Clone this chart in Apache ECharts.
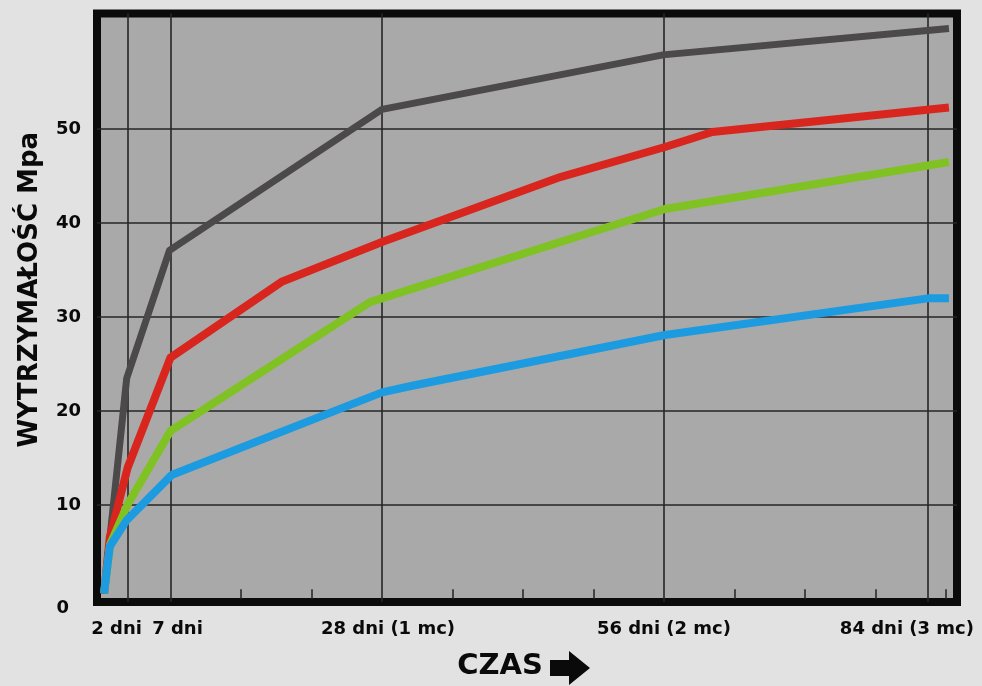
<!DOCTYPE html>
<html>
<head>
<meta charset="utf-8">
<script src="https://cdn.jsdelivr.net/npm/echarts@6/dist/echarts.min.js"></script>
<style>
  html, body { margin: 0; padding: 0; background: #e2e2e2; }
  #chart { width: 982px; height: 686px; }
</style>
</head>
<body>
<div id="chart"></div>
<script>
// czas w dniach, wytrzymałość w MPa
const grayDays  = [0.4, 2.65, 6.9, 28, 55.9, 84.3];
const grayVals  = [0.6, 23.5, 37.1, 52.1, 57.9, 60.7];
const redDays   = [0.4, 0.97, 2.75, 7.0, 18.1, 28, 45.7, 56.1, 60.8, 84.3];
const redVals   = [0.6, 6.6, 14.0, 25.7, 33.8, 38.0, 44.9, 48.1, 49.7, 52.3];
const greenDays = [0.4, 1.0, 2.75, 7.0, 26.8, 56.1, 84.3];
const greenVals = [0.6, 5.8, 10.1, 17.9, 31.6, 41.5, 46.5];
const blueDays  = [0.4, 0.97, 2.65, 7.1, 28, 31.0, 56.1, 82.2, 84.3];
const blueVals  = [0.6, 5.6, 8.4, 13.2, 22.0, 22.7, 28.1, 32.0, 32.0];

const xLabelDays  = [2, 7, 28, 56, 84];
const xLabelTexts = ['2 dni', '7 dni', '28 dni (1 mc)', '56 dni (2 mc)', '84 dni (3 mc)'];
const xTickDays   = [14, 21, 35, 42, 49, 63, 70, 77, 84];
const xLineDays   = [2.75, 7, 28, 56, 82.2];
const yLabelVals  = [0, 10, 20, 30, 40, 50];
const yLineVals   = [10, 20, 30, 40, 50];

const font = '"DejaVu Sans", sans-serif';
const toPairs = (xs, ys) => xs.map((x, i) => [x, ys[i]]);

const labelPad = [[0, 7, 0, 0], [0, 0, 0, 14], [0, 0, 0, 12], [0, 0, 0, 0], [0, 78, 0, 0]];
const rich = {};
labelPad.forEach((p, i) => {
    rich['l' + i] = { fontFamily: font, fontWeight: 'bold', fontSize: 18, color: '#0a0a0a', padding: p };
});

const chart = echarts.init(document.getElementById('chart'));

const option = {
    backgroundColor: '#e2e2e2',
    animation: false,
    grid: {
        left: 97, right: 25, top: 13.5, bottom: 80.5,
        show: true,
        backgroundColor: '#a9a9a9',
        borderColor: '#0b0b0b',
        borderWidth: 8
    },
    xAxis: [
        {
            type: 'value',
            min: -0.3,
            max: 85.1,
            name: 'CZAS',
            nameLocation: 'middle',
            nameGap: 50,
            nameTextStyle: { fontFamily: font, fontWeight: 'bold', fontSize: 29, color: '#0a0a0a', padding: [0, 54, 0, 0] },
            axisLine: { show: false },
            splitLine: { show: false },
            axisTick: {
                show: true, inside: true, length: 10,
                customValues: xTickDays,
                lineStyle: { color: '#222', width: 1.5 }
            },
            axisLabel: {
                customValues: xLabelDays,
                margin: 18,
                formatter: function (v) {
                    const i = xLabelDays.indexOf(v);
                    return '{l' + i + '|' + xLabelTexts[i] + '}';
                },
                rich: rich
            }
        },
        {
            type: 'value',
            min: -0.3,
            max: 85.1,
            axisLine: { show: false },
            axisLabel: { show: false },
            axisTick: { show: false, customValues: xLineDays },
            splitLine: { show: true, lineStyle: { color: '#262626', width: 1.6 } }
        }
    ],
    yAxis: {
        type: 'value',
        min: -0.3,
        max: 62.3,
        name: 'WYTRZYMAŁOŚĆ Mpa',
        nameLocation: 'middle',
        nameRotate: 90,
        nameGap: 54,
        nameTextStyle: { fontFamily: font, fontWeight: 'bold', fontSize: 26, color: '#0a0a0a', padding: [0, 0, 0, 36] },
        axisLine: { show: false },
        axisTick: { show: false, customValues: yLineVals },
        splitLine: { show: true, lineStyle: { color: '#262626', width: 1.6 } },
        axisLabel: {
            customValues: yLabelVals,
            margin: 16,
            fontFamily: font, fontWeight: 'bold', fontSize: 18, color: '#0a0a0a',
            formatter: function (v) {
                return v === 0 ? '{z|0}' : String(v);
            },
            rich: {
                z: { fontFamily: font, fontWeight: 'bold', fontSize: 18, color: '#0a0a0a', padding: [18, 12, 0, 0] }
            }
        }
    },
    graphic: [
        {
            type: 'polygon',
            shape: { points: [[550, 660], [569, 660], [569, 651], [590, 668], [569, 685], [569, 676], [550, 676]] },
            style: { fill: '#0a0a0a' }
        }
    ],
    series: [
        { name: 'gray',  type: 'line', data: toPairs(grayDays, grayVals),   color: '#4b4949' },
        { name: 'red',   type: 'line', data: toPairs(redDays, redVals),     color: '#d8261e' },
        { name: 'green', type: 'line', data: toPairs(greenDays, greenVals), color: '#80c224' },
        { name: 'blue',  type: 'line', data: toPairs(blueDays, blueVals),   color: '#1d9be0' }
    ].map(s => Object.assign(s, {
        showSymbol: false,
        symbol: 'none',
        lineStyle: { width: s.name === 'gray' ? 7 : 8, join: 'round' }
    }))
};

chart.setOption(option);
</script>
</body>
</html>
